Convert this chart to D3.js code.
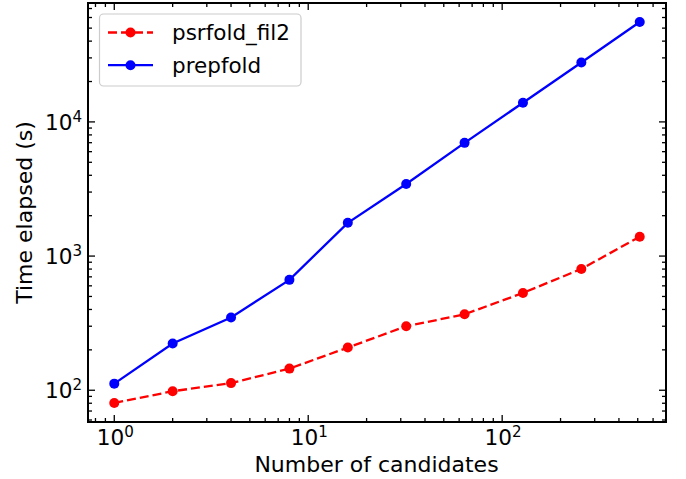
<!DOCTYPE html>
<html>
<head>
<meta charset="utf-8">
<script src="https://cdn.jsdelivr.net/npm/d3@7/dist/d3.min.js"></script>
<style>
  html, body { margin: 0; padding: 0; background: #fff; }
  svg { display: block; }
  text { font-family: "DejaVu Sans", sans-serif; fill: #000; }
</style>
</head>
<body>
<svg id="chart" width="686" height="479"></svg>
<script>
const candidates = [1, 2, 4, 8, 16, 32, 64, 128, 256, 512];
const psrfoldFil2 = [80.4, 98.3, 113, 145, 208, 300, 368, 531, 802, 1393];
const prepfold = [112, 223, 348, 665, 1770, 3445, 6980, 13900, 27700, 55500];
const seriesNames = ["psrfold_fil2", "prepfold"];
const xMajorTicks = [1, 10, 100];
const yMajorTicks = [100, 1000, 10000];
const xLabel = "Number of candidates";
const yLabel = "Time elapsed (s)";

(function () {
const pL = 88, pR = 666, pT = 3, pB = 422;
const svg = d3.select("#chart");

function logDomain(vals) {
  const lo = Math.log10(d3.min(vals)), hi = Math.log10(d3.max(vals));
  const m = (hi - lo) * 0.05;
  return [Math.pow(10, lo - m), Math.pow(10, hi + m)];
}
const x = d3.scaleLog().domain(logDomain(candidates)).range([pL, pR]);
const y = d3.scaleLog().domain(logDomain(psrfoldFil2.concat(prepfold))).range([pB, pT]);

function minorTicks(scale) {
  const [a, b] = scale.domain();
  const out = [];
  for (let e = Math.floor(Math.log10(a)); e <= Math.ceil(Math.log10(b)); e++) {
    for (let k = 2; k <= 9; k++) {
      const v = k * Math.pow(10, e);
      if (v >= a && v <= b) out.push(v);
    }
  }
  return out;
}

const tickG = svg.append("g").attr("stroke", "#000").attr("stroke-width", 1.3);
function drawXTicks(vals, len) {
  vals.forEach(v => {
    const px = x(v);
    if (px >= pL && px <= pR) {
      tickG.append("line").attr("x1", px).attr("x2", px).attr("y1", pB).attr("y2", pB - len);
      tickG.append("line").attr("x1", px).attr("x2", px).attr("y1", pT).attr("y2", pT + len);
    }
  });
}
function drawYTicks(vals, len) {
  vals.forEach(v => {
    const py = y(v);
    if (py >= pT && py <= pB) {
      tickG.append("line").attr("y1", py).attr("y2", py).attr("x1", pL).attr("x2", pL + len);
      tickG.append("line").attr("y1", py).attr("y2", py).attr("x1", pR).attr("x2", pR - len);
    }
  });
}
drawXTicks(xMajorTicks, 7);
drawXTicks(minorTicks(x), 4);
drawYTicks(yMajorTicks, 7);
drawYTicks(minorTicks(y), 4);

const tfs = 21.6;
xMajorTicks.forEach(v => {
  const t = svg.append("text").attr("x", x(v) + 1).attr("y", 445)
    .attr("text-anchor", "middle").attr("font-size", tfs);
  t.append("tspan").text("10");
  t.append("tspan").attr("font-size", tfs * 0.7).attr("dy", -8).text(Math.round(Math.log10(v)));
});
yMajorTicks.forEach(v => {
  const t = svg.append("text").attr("x", 82).attr("y", y(v) + 8)
    .attr("text-anchor", "end").attr("font-size", tfs);
  t.append("tspan").text("10");
  t.append("tspan").attr("font-size", tfs * 0.7).attr("dy", -8).text(Math.round(Math.log10(v)));
});

const lfs = 22;
svg.append("text").attr("x", (pL + pR) / 2 - 0.5).attr("y", 472)
  .attr("text-anchor", "middle").attr("font-size", lfs).text(xLabel);
svg.append("text").attr("transform", `translate(32,${(pT + pB) / 2}) rotate(-90)`)
  .attr("text-anchor", "middle").attr("font-size", lfs).text(yLabel);

const series = [
  { name: seriesNames[0], vals: psrfoldFil2, color: "#ff0000", dash: "9,4" },
  { name: seriesNames[1], vals: prepfold, color: "#0000ff", dash: null }
];
const line = d3.line().x(d => x(d[0])).y(d => y(d[1]));
const plot = svg.append("g");
series.forEach(s => {
  const pts = candidates.map((c, i) => [c, s.vals[i]]);
  plot.append("path").attr("d", line(pts)).attr("fill", "none")
    .attr("stroke", s.color).attr("stroke-width", 2.3)
    .attr("stroke-dasharray", s.dash);
  plot.selectAll(null).data(pts).enter().append("circle")
    .attr("cx", d => x(d[0])).attr("cy", d => y(d[1])).attr("r", 5)
    .attr("fill", s.color);
});

svg.append("rect").attr("x", pL).attr("y", pT).attr("width", pR - pL)
  .attr("height", pB - pT).attr("fill", "none").attr("stroke", "#000").attr("stroke-width", 2);

const lg = svg.append("g");
lg.append("rect").attr("x", 99.5).attr("y", 14).attr("width", 201.5).attr("height", 72)
  .attr("rx", 4).attr("fill", "#fff").attr("fill-opacity", 0.8)
  .attr("stroke", "#cccccc").attr("stroke-width", 1.2);
series.forEach((s, i) => {
  const cy = 32.5 + i * 32.7;
  lg.append("line").attr("x1", 108).attr("x2", 153).attr("y1", cy).attr("y2", cy)
    .attr("stroke", s.color).attr("stroke-width", 2.3).attr("stroke-dasharray", s.dash);
  lg.append("circle").attr("cx", 130.5).attr("cy", cy).attr("r", 5).attr("fill", s.color);
  lg.append("text").attr("x", 172).attr("y", cy + 7.5).attr("font-size", 21.5).text(s.name);
});
})();
</script>
</body>
</html>
